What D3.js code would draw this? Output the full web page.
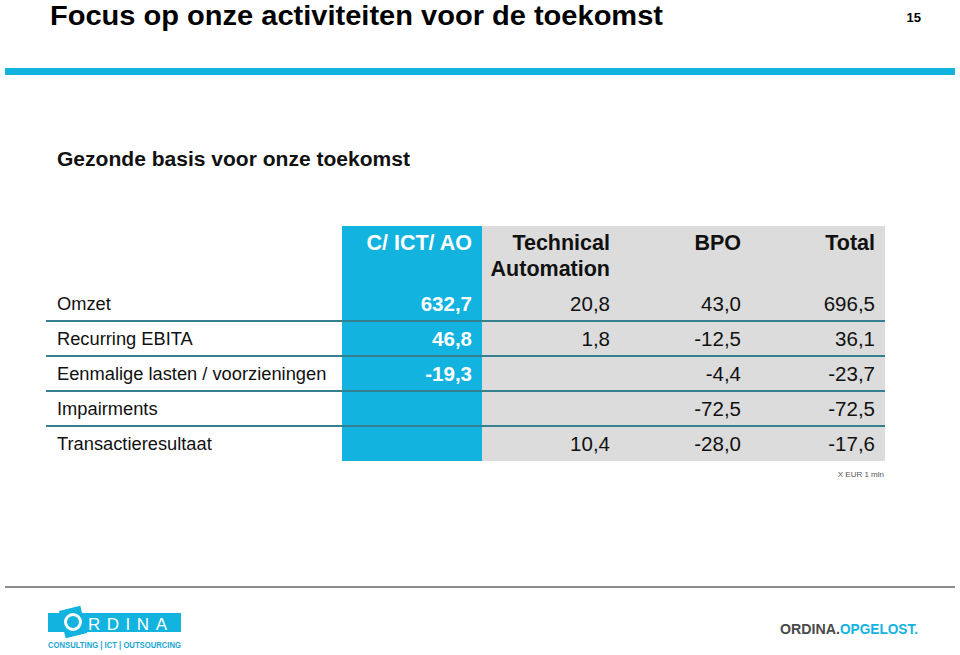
<!DOCTYPE html>
<html>
<head>
<meta charset="utf-8">
<script src="https://cdn.jsdelivr.net/npm/d3@7/dist/d3.min.js"></script>
<style>
  html, body { margin: 0; padding: 0; background: #fff; }
  svg { display: block; font-family: "Liberation Sans", Arial, Helvetica, sans-serif; }
</style>
</head>
<body>
<svg id="chart" width="960" height="655"></svg>
<script>
// ---- data ----
const title = "Focus op onze activiteiten voor de toekomst";
const pageNumber = "15";
const subtitle = "Gezonde basis voor onze toekomst";
const columns = ["C/ ICT/ AO", "Technical|Automation", "BPO", "Total"];
const rows = ["Omzet", "Recurring EBITA", "Eenmalige lasten / voorzieningen", "Impairments", "Transactieresultaat"];
const valuesCictAo = [632.7, 46.8, -19.3, null, null];
const valuesTechnical = [20.8, 1.8, null, null, 10.4];
const valuesBpo = [43.0, -12.5, -4.4, -72.5, -28.0];
const valuesTotal = [696.5, 36.1, -23.7, -72.5, -17.6];
const unitNote = "X EUR 1 mln";

const series = [valuesCictAo, valuesTechnical, valuesBpo, valuesTotal];

// ---- style / layout ----
const CYAN = "#12b3df";
const GREY_BG = "#dcdcdc";
const LINE = "#33808f";

const nl = d3.formatLocale({decimal: ",", thousands: ".", grouping: [3], currency: ["€", ""], minus: "-"});
const fmt = nl.format(".1f");

const svg = d3.select("#chart");

// Title
svg.append("text").attr("x", 50).attr("y", 25)
  .attr("font-size", 27).attr("font-weight", "bold").attr("fill", "#000")
  .attr("textLength", 613).attr("lengthAdjust", "spacingAndGlyphs")
  .text(title);
svg.append("text").attr("x", 921).attr("y", 22).attr("text-anchor", "end")
  .attr("font-size", 13).attr("font-weight", "bold").text(pageNumber);

// Top bar
svg.append("rect").attr("x", 5).attr("y", 68).attr("width", 950).attr("height", 7).attr("fill", CYAN);

// Subtitle
svg.append("text").attr("x", 57).attr("y", 166)
  .attr("font-size", 20).attr("font-weight", "bold").attr("fill", "#111")
  .attr("textLength", 353).attr("lengthAdjust", "spacingAndGlyphs")
  .text(subtitle);

// Scales
const tableTop = 226, headerBottom = 286, tableBottom = 461;
const y = d3.scaleBand().domain(rows).range([headerBottom, tableBottom]);
const colRight = d3.scaleOrdinal().domain(columns).range([472, 610, 741, 875]);
const colBand = d3.scaleOrdinal().domain(columns).range([[342, 482], [482, 620], [620, 751], [751, 885]]);

// Backgrounds
svg.append("rect").attr("x", 482).attr("y", tableTop).attr("width", 885 - 482).attr("height", tableBottom - tableTop).attr("fill", GREY_BG);
const first = colBand(columns[0]);
svg.append("rect").attr("x", first[0]).attr("y", tableTop).attr("width", first[1] - first[0]).attr("height", tableBottom - tableTop).attr("fill", CYAN);

// Row separator lines
svg.append("g").selectAll("line").data(rows.slice(1)).join("line")
  .attr("x1", 46).attr("x2", 885)
  .attr("y1", d => y(d)).attr("y2", d => y(d))
  .attr("stroke", LINE).attr("stroke-width", 2);

// Header
const header = svg.append("g");
columns.forEach((c, i) => {
  const t = header.append("text")
    .attr("x", colRight(c)).attr("y", 250)
    .attr("text-anchor", "end").attr("font-size", 21.5).attr("font-weight", "bold")
    .attr("fill", i === 0 ? "#fff" : "#111");
  c.split("|").forEach((part, j) => {
    t.append("tspan").attr("x", colRight(c)).attr("dy", j === 0 ? 0 : 26).text(part);
  });
});

// Row labels
svg.append("g").selectAll("text").data(rows).join("text")
  .attr("x", 57).attr("y", d => y(d) + y.bandwidth() / 2 + 6)
  .attr("font-size", 18.3).attr("fill", "#111")
  .text(d => d);

// Values
columns.forEach((c, ci) => {
  svg.append("g").selectAll("text")
    .data(series[ci].map((v, ri) => ({v, r: rows[ri]})).filter(d => d.v !== null))
    .join("text")
    .attr("x", colRight(c))
    .attr("y", d => y(d.r) + y.bandwidth() / 2 + 7.5)
    .attr("text-anchor", "end").attr("font-size", 20.5)
    .attr("font-weight", ci === 0 ? "bold" : "normal")
    .attr("fill", ci === 0 ? "#fff" : "#111")
    .text(d => fmt(d.v));
});

// Unit note
svg.append("text").attr("x", 884).attr("y", 477).attr("text-anchor", "end")
  .attr("font-size", 8).attr("fill", "#555").text(unitNote);

// Footer line
svg.append("line").attr("x1", 5).attr("x2", 955).attr("y1", 587).attr("y2", 587)
  .attr("stroke", "#666").attr("stroke-width", 1.5);

// Left logo
const logo = svg.append("g");
logo.append("rect").attr("x", 48).attr("y", 613).attr("width", 133).attr("height", 19).attr("fill", CYAN);
logo.append("rect").attr("x", 62).attr("y", 608).attr("width", 22).attr("height", 28).attr("fill", CYAN)
  .attr("transform", "rotate(-14 73 622)");
logo.append("circle").attr("cx", 73).attr("cy", 622).attr("r", 7.5).attr("fill", "none")
  .attr("stroke", "#fff").attr("stroke-width", 3);
logo.append("text").attr("x", 88).attr("y", 630).attr("font-size", 17).attr("fill", "#fff")
  .attr("textLength", 79).attr("lengthAdjust", "spacing").text("RDINA");
logo.append("text").attr("x", 48).attr("y", 648).attr("font-size", 8.5).attr("font-weight", "bold")
  .attr("fill", "#1aa6d4").attr("textLength", 133).attr("lengthAdjust", "spacingAndGlyphs")
  .text("CONSULTING | ICT | OUTSOURCING");

// Right logo
const rl = svg.append("text").attr("y", 634).attr("font-size", 14.5).attr("font-weight", "bold");
rl.append("tspan").attr("x", 780).attr("fill", "#4a4a4a").attr("textLength", 60).attr("lengthAdjust", "spacingAndGlyphs").text("ORDINA.");
rl.append("tspan").attr("x", 840).attr("fill", CYAN).attr("textLength", 78).attr("lengthAdjust", "spacingAndGlyphs").text("OPGELOST.");
</script>
</body>
</html>
